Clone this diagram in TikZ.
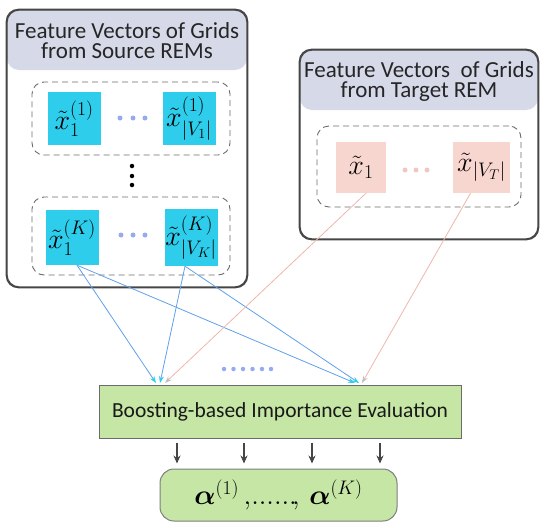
\RequirePackage{fix-cm}
\documentclass[tikz,border=0pt]{standalone}
\usepackage{fontspec}
\setmainfont{Carlito}
\usepackage{amsmath}
\usetikzlibrary{arrows.meta}
\definecolor{hdr}{RGB}{214,217,232}
\definecolor{cyanbox}{RGB}{45,205,235}
\definecolor{pinkbox}{RGB}{248,214,208}
\definecolor{greenbox}{RGB}{198,230,165}
\definecolor{blueline}{RGB}{95,160,235}
\definecolor{pinkline}{RGB}{238,182,170}
\definecolor{bluedot}{RGB}{150,170,240}
\definecolor{pinkdot}{RGB}{240,200,195}
\definecolor{frame}{RGB}{70,70,70}
\tikzset{
  outerbox/.style={draw=frame, line width=1.3pt, rounded corners=12pt, inner sep=0pt},
  hdrtext/.style={font=\fontsize{23}{20}\selectfont, align=center, text=black!85},
  dashbox/.style={draw=frame!80, line width=0.9pt, dash pattern=on 6pt off 4pt, rounded corners=12pt, inner sep=0pt},
  srcsq/.style={fill=cyanbox, minimum width=53pt, minimum height=53pt, inner sep=0pt, font=\fontsize{28}{28}\selectfont},
  tgtsq/.style={fill=pinkbox, minimum width=50pt, minimum height=51pt, inner sep=0pt, font=\fontsize{28}{28}\selectfont},
  barr/.style={draw=blueline, line width=0.8pt, -{Stealth[length=7pt,width=5pt,color=cyanbox]}},
  parr/.style={draw=pinkline, line width=0.8pt, -{Stealth[length=7pt,width=5pt,color=black!25]}},
  darr/.style={draw=frame, line width=1.1pt, -{Stealth[length=8pt,width=7pt]}},
  bdot/.style={circle, fill=bluedot, inner sep=0pt, minimum size=5pt},
  pdot/.style={circle, fill=pinkdot, inner sep=0pt, minimum size=5pt},
  kdot/.style={circle, fill=black, inner sep=0pt, minimum size=4.5pt},
}
\begin{document}
\begin{tikzpicture}[x=1pt,y=-1pt]
\useasboundingbox (0,0) rectangle (550,528);
% source outer box
\node[outerbox, minimum width=240pt, minimum height=277pt,
  path picture={\fill[hdr] (path picture bounding box.north west) rectangle ([yshift=-60pt]path picture bounding box.north east);}]
  (src) at (127,148.5) {};
\draw[frame, line width=1.3pt, rounded corners=12pt] (src.north west) rectangle (src.south east);
\node[hdrtext] (srch) at (127,41) {Feature Vectors of Grids\\from Source REMs};
% target outer box
\node[outerbox, minimum width=238pt, minimum height=189pt,
  path picture={\fill[hdr] (path picture bounding box.north west) rectangle ([yshift=-60pt]path picture bounding box.north east);}]
  (tgt) at (419,144.5) {};
\draw[frame, line width=1.3pt, rounded corners=12pt] (tgt.north west) rectangle (tgt.south east);
\node[hdrtext] (tgth) at (419,81) {Feature Vectors~ of Grids\\from Target REM};
% dashed groups
\node[dashbox, minimum width=198pt, minimum height=73pt] (g1) at (131,118.5) {};
\node[dashbox, minimum width=198pt, minimum height=78pt] (gK) at (131,236) {};
\node[dashbox, minimum width=204pt, minimum height=81pt] (gT) at (419,166.5) {};
% source squares
\node[srcsq] (s11) at (74,118.5) {$\tilde{x}_1^{(1)}$};
\node[srcsq] (s1V) at (189,118.5) {$\tilde{x}_{|V_1|}^{(1)}$};
\node[srcsq, minimum height=55pt] (sK1) at (72,237.5) {$\tilde{x}_1^{(K)}$};
\node[srcsq, minimum height=57pt] (sKV) at (191,237.5) {$\tilde{x}_{|V_K|}^{(K)}$};
% target squares
\node[tgtsq] (t1) at (361,167.5) {$\tilde{x}_1$};
\node[tgtsq, minimum width=57pt] (tV) at (481.5,167.5) {$\tilde{x}_{|V_T|}$};
% dots
\node[bdot] (d1a) at (120,118) {}; \node[bdot] (d1b) at (133,118) {}; \node[bdot] (d1c) at (145,118) {};
\node[bdot] (d2a) at (121,235) {}; \node[bdot] (d2b) at (133,235) {}; \node[bdot] (d2c) at (145,235) {};
\node[kdot] (v1) at (132,166) {}; \node[kdot] (v2) at (132,176) {}; \node[kdot] (v3) at (132,185) {};
\node[pdot] (p1) at (405,170) {}; \node[pdot] (p2) at (416,170) {}; \node[pdot] (p3) at (427,170) {};
\foreach \i/\xx in {1/224,2/233.5,3/243,4/252.5,5/262,6/271} \node[bdot, minimum size=4.5pt] (m\i) at (\xx,369) {};
% evaluation box
\node[draw=frame!80, fill=greenbox, line width=1pt, minimum width=362pt, minimum height=53pt,
  font=\fontsize{21.5}{22}\selectfont, text=black!90] (eval) at (280,411.5) {Boosting-based Importance Evaluation};
\node[draw=frame!70, fill=greenbox, line width=1pt, rounded corners=14pt, minimum width=237pt, minimum height=52pt,
  font=\fontsize{28}{28}\selectfont] (alpha) at (278.5,495) {$\boldsymbol{\alpha}^{(1)}\,,\!......\!,\,\boldsymbol{\alpha}^{(K)}$};
% input coordinates
\coordinate (inA) at (156,383);
\coordinate (inB) at (355,383);
\coordinate (inA2) at (160,383);
\coordinate (inB2) at (359,383);
\coordinate (inAp) at (165,383);
\coordinate (inBp) at (362,383);
% connectors
\draw[barr] ([xshift=5pt]sK1.south) -- (inA);
\draw[barr] ([xshift=5pt]sK1.south) -- (inB);
\draw[barr] ([xshift=-6pt]sKV.south) -- (inA2);
\draw[barr] ([xshift=-6pt]sKV.south) -- (inB2);
\draw[parr] ([xshift=5pt]t1.south) -- (inAp);
\draw[parr] ([xshift=-11pt]tV.south) -- (inBp);
\foreach \dx in {-103,-36,32,100}
  \draw[darr] ([xshift=\dx pt, yshift=-4pt]eval.south) -- ([xshift=\dx pt, yshift=-25pt]eval.south);
\end{tikzpicture}
\end{document}
